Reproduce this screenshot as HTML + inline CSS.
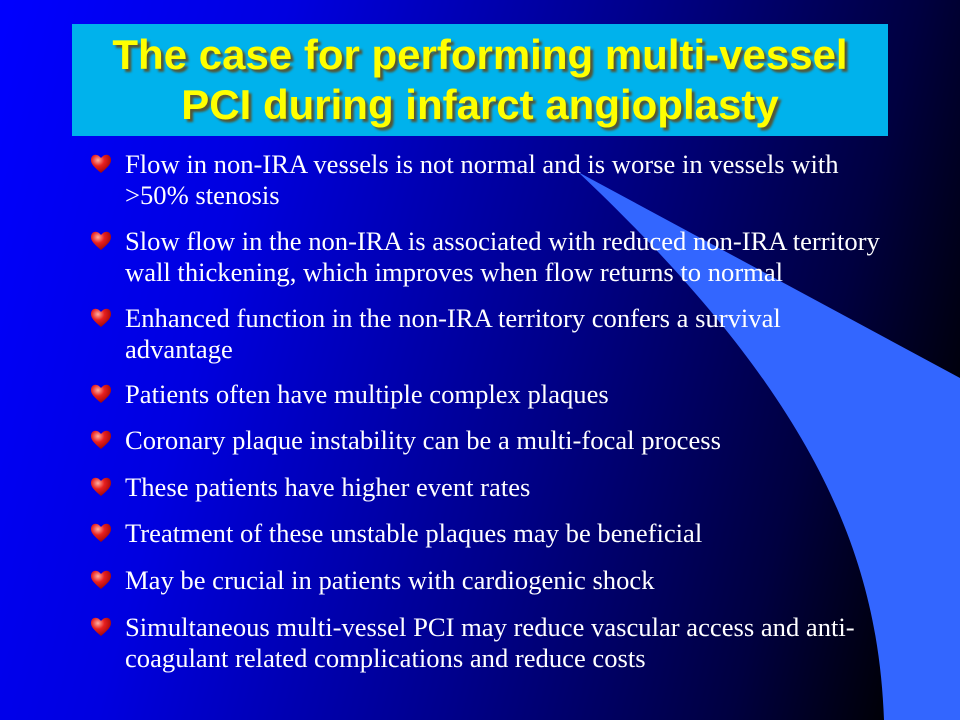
<!DOCTYPE html>
<html><head><meta charset="utf-8"><style>
html,body{margin:0;padding:0}
body{width:960px;height:720px;position:relative;overflow:hidden;
background:linear-gradient(105deg,#0000ff 0%,#0000e0 25%,#00008c 55%,#000040 80%,#000000 95%);
font-family:"Liberation Serif",serif}
#shape{position:absolute;left:0;top:0}
#title{position:absolute;left:72px;top:24px;width:816px;height:112px;background:#00b2ec;
text-align:center;font-family:"Liberation Sans",sans-serif;font-weight:bold;font-size:42px;line-height:50px;color:#ffff00;
text-shadow:3px 3px 2px #555533;box-sizing:border-box;padding-top:6px;white-space:nowrap}
.b{position:absolute;left:125px;width:800px;color:#fff;font-size:26.6px;line-height:31px;white-space:nowrap}
.h{position:absolute;left:-35px;top:5px;width:22px;height:20px}
</style></head><body>
<svg id="shape" width="960" height="720">
<path d="M578,172 L960,378 L960,720 L884,720 C878,560 820,400 578,172 Z" fill="#3366ff"/>
</svg>
<div id="title">The case for performing multi-vessel<br>PCI during infarct angioplasty</div>
<div id="list"></div>
<script>
const items=[
[149,"Flow in non-IRA vessels is not normal and is worse in vessels with<br>&gt;50% stenosis"],
[226,"Slow flow in the non-IRA is associated with reduced non-IRA territory<br>wall thickening, which improves when flow returns to normal"],
[303,"Enhanced function in the non-IRA territory confers a survival<br>advantage"],
[379,"Patients often have multiple complex plaques"],
[425,"Coronary plaque instability can be a multi-focal process"],
[472,"These patients have higher event rates"],
[518,"Treatment of these unstable plaques may be beneficial"],
[565,"May be crucial in patients with cardiogenic shock"],
[612,"Simultaneous multi-vessel PCI may reduce vascular access and anti-<br>coagulant related complications and reduce costs"]];
const list=document.getElementById('list');
items.forEach((it,i)=>{
 const d=document.createElement('div');
 d.className='b';d.style.top=it[0]+'px';
 
 
 d.innerHTML='<svg class="h" viewBox="0 0 22 20"><defs><radialGradient id="g'+i+'" cx="0.35" cy="0.3" r="0.8"><stop offset="0" stop-color="#ffb0a0"/><stop offset="0.4" stop-color="#e82020"/><stop offset="1" stop-color="#900000"/></radialGradient></defs><path d="M11,19 C4,13 1,10 1,6 C1,2 4,0 7,1 C9,1.5 10,3 11,4 C12,3 13,1.5 15,1 C18,0 21,2 21,6 C21,10 18,13 11,19Z" fill="url(#g'+i+')"/></svg>'+it[1];
 d.querySelector('svg');
 d.querySelector('svg');
 list.appendChild(d);
});
</script>
</body></html>
